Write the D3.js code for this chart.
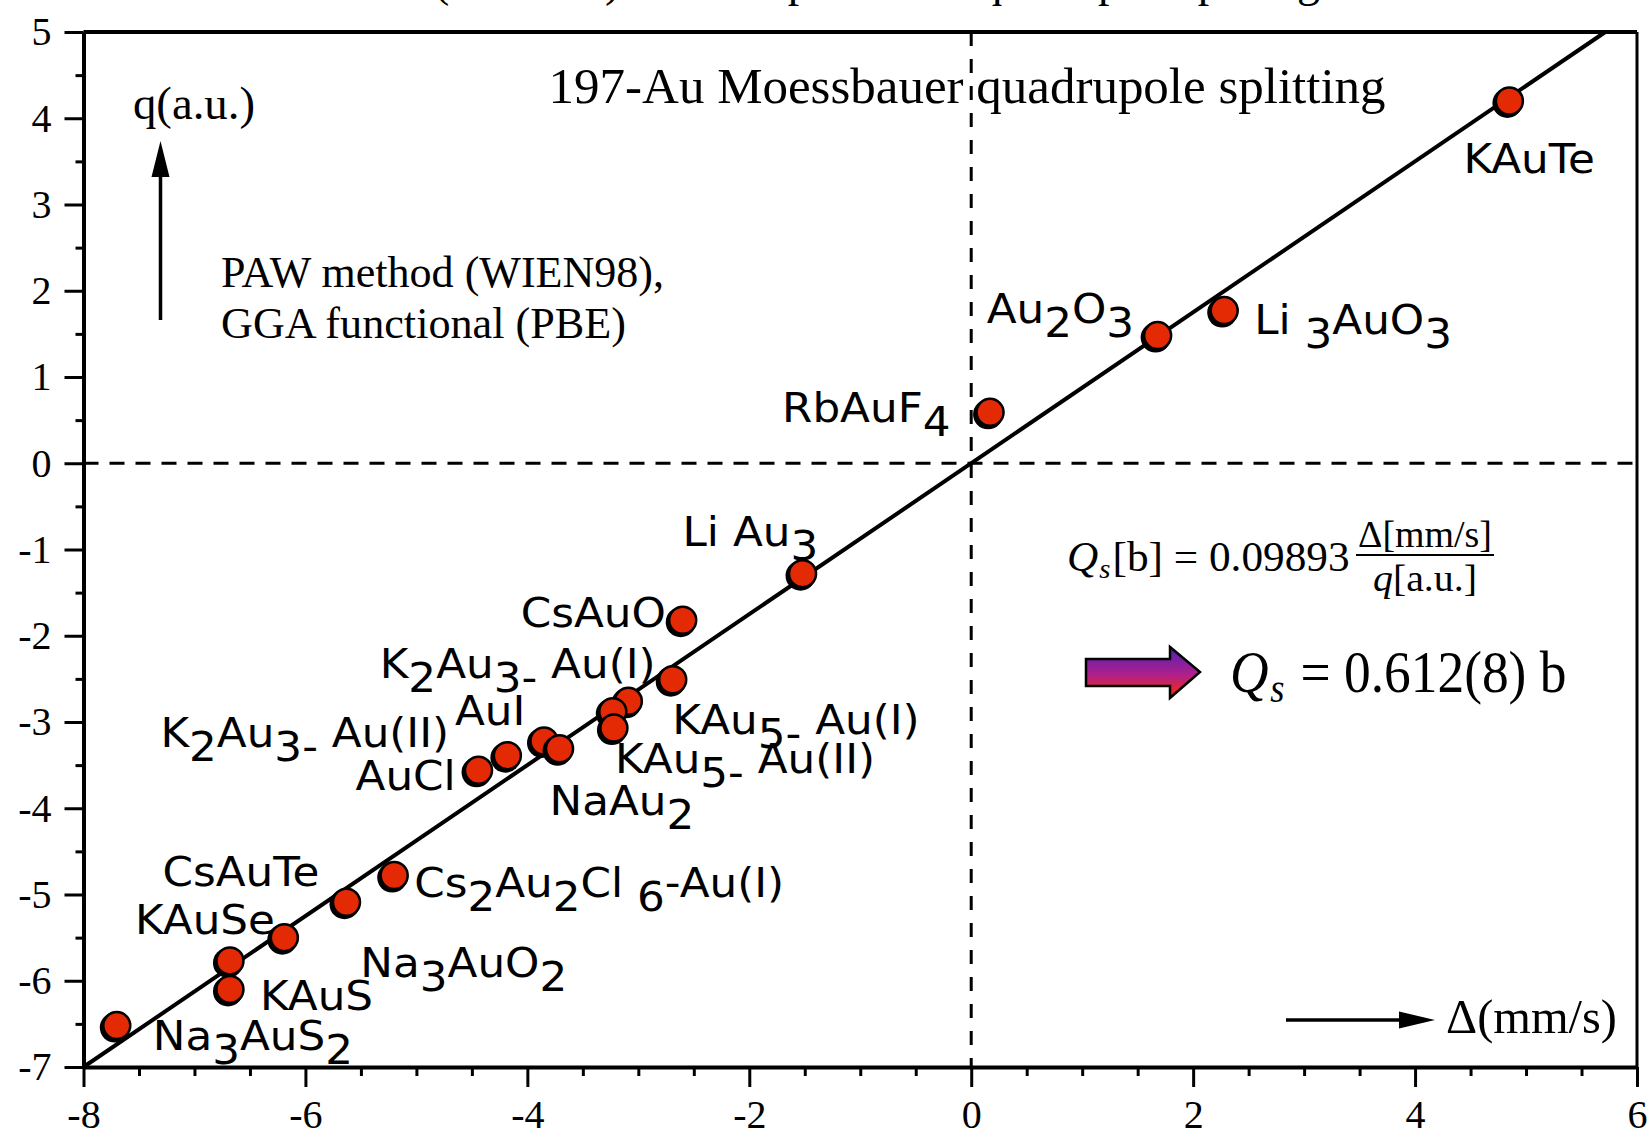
<!DOCTYPE html>
<html>
<head>
<meta charset="utf-8">
<script src="https://cdn.jsdelivr.net/npm/d3@7"></script>
<style>
  body { margin: 0; background: #fff; }
  svg { display: block; }
  .serif { font-family: "Liberation Serif", "Times New Roman", serif; }
  .lab { font-family: "DejaVu Sans", sans-serif; }
</style>
</head>
<body>
<svg width="1648" height="1131"></svg>
<script>
// data
var compounds = ["KAuTe", "Li _{3}AuO_{3}", "Au_{2}O_{3}", "RbAuF_{4}", "Li Au_{3}", "CsAuO",
    "K_{2}Au_{3-} Au(I)", "KAu_{5-} Au(I)", "", "KAu_{5-} Au(II)", "AuI", "NaAu_{2}",
    "K_{2}Au_{3-} Au(II)", "AuCl", "Cs_{2}Au_{2}Cl _{6}-Au(I)", "CsAuTe", "Na_{3}AuO_{2}",
    "KAuSe", "KAuS", "Na_{3}AuS_{2}"];
var splitting = [4.85, 2.28, 1.68, 0.17, -1.52, -2.60, -2.69, -3.09, -3.23, -3.22, -3.85, -3.71,
    -4.18, -4.44, -5.20, -5.63, -6.19, -6.68, -6.68, -7.70];
var efg = [4.20, 1.77, 1.48, 0.59, -1.28, -1.82, -2.51, -2.76, -2.88, -3.07, -3.22, -3.31,
    -3.39, -3.56, -4.78, -5.09, -5.50, -5.77, -6.10, -6.52];

// fit line q = slope * delta
var fitSlope = 0.875;

var xMajor = [-8, -6, -4, -2, 0, 2, 4, 6];
var yMajor = [-7, -6, -5, -4, -3, -2, -1, 0, 1, 2, 3, 4, 5];

// label placement (pixels, relative to the point)
var labelOffsets = [[-46, 72], [30, 23], [-171, -13], [-208, 10], [-120, -28], [-162, 7],
    [-293, -2], [44, 33], null, [1, 45], [-89, -16], [-10, 66],
    [-347, -9], [-123, 20], [20, 21], [-184, -16], [76, 39],
    [-95, -27], [30, 21], [36, 24]];

var svg = d3.select("svg");

var x = d3.scaleLinear().domain([-8, 6]).range([83.5, 1637]);
var y = d3.scaleLinear().domain([-7, 5]).range([1067, 32]);

var xMinor = d3.range(-8, 6.01, 0.5).filter(function (d) { return xMajor.indexOf(d) < 0; });
var yMinor = d3.range(-6.5, 5, 1);

//title cut off at the top
svg.append("text")
    .attr("class", "serif")
    .attr("x", 150).attr("y", -4)
    .attr("font-size", 46)
    .attr("textLength", 1170)
    .text("Calculated EFG (WIEN98) versus experimental quadrupole splitting");

//zero lines
svg.append("line")
    .attr("x1", x(-8)).attr("x2", x(6))
    .attr("y1", y(0)).attr("y2", y(0))
    .attr("stroke", "#000").attr("stroke-width", 3)
    .attr("stroke-dasharray", "15,11");
svg.append("line")
    .attr("x1", x(0)).attr("x2", x(0))
    .attr("y1", y(5)).attr("y2", y(-7))
    .attr("stroke", "#000").attr("stroke-width", 3)
    .attr("stroke-dasharray", "14,13");

//fit line
svg.append("line")
    .attr("x1", x(-8)).attr("y1", y(fitSlope * -8))
    .attr("x2", x(5 / fitSlope)).attr("y2", y(5))
    .attr("stroke", "#000").attr("stroke-width", 4);

//frame
svg.append("line").attr("x1", x(-8)).attr("x2", x(6)).attr("y1", y(5)).attr("y2", y(5))
    .attr("stroke", "#000").attr("stroke-width", 4);
svg.append("line").attr("x1", x(6)).attr("x2", x(6)).attr("y1", y(5)).attr("y2", y(-7))
    .attr("stroke", "#000").attr("stroke-width", 3);

//axes
function styleAxis(g) {
    g.select(".domain").attr("stroke-width", 4);
    g.selectAll(".tick line").attr("stroke-width", 3);
    g.selectAll("text").attr("class", "serif").attr("font-size", 40).attr("fill", "#000");
}

svg.append("g")
    .attr("transform", "translate(0," + y(-7) + ")")
    .call(d3.axisBottom(x).tickValues(xMinor).tickSize(9).tickSizeOuter(0).tickFormat(""))
    .call(function (g) { g.select(".domain").remove(); g.selectAll("line").attr("stroke-width", 3); });
svg.append("g")
    .attr("transform", "translate(" + x(-8) + ",0)")
    .call(d3.axisLeft(y).tickValues(yMinor).tickSize(8).tickSizeOuter(0).tickFormat(""))
    .call(function (g) { g.select(".domain").remove(); g.selectAll("line").attr("stroke-width", 3); });

svg.append("g")
    .attr("transform", "translate(0," + y(-7) + ")")
    .call(d3.axisBottom(x).tickValues(xMajor).tickSize(20).tickSizeOuter(0).tickPadding(13)
        .tickFormat(function (d) { return String(d); }))
    .call(styleAxis)
    .attr("font-family", null);
svg.append("g")
    .attr("transform", "translate(" + x(-8) + ",0)")
    .call(d3.axisLeft(y).tickValues(yMajor).tickSize(19).tickSizeOuter(0).tickPadding(13)
        .tickFormat(function (d) { return String(d); }))
    .call(styleAxis)
    .attr("font-family", null);

//points
var pts = svg.append("g").selectAll("g")
    .data(compounds.map(function (c, i) { return { name: c, dx: splitting[i], q: efg[i], off: labelOffsets[i] }; }))
    .enter()
    .append("g")
    .attr("transform", function (d) { return "translate(" + x(d.dx) + "," + y(d.q) + ")"; });

pts.append("circle")
    .attr("cx", -2).attr("cy", 2).attr("r", 15)
    .attr("fill", "#000");
pts.append("circle")
    .attr("r", 13.5)
    .attr("fill", "#e32a04")
    .attr("stroke", "#000").attr("stroke-width", 2.5);

//labels with subscripts
function parts(s) {
    var out = [], re = /_\{([^}]*)\}|([^_]+)/g, m;
    while ((m = re.exec(s))) {
        out.push(m[1] !== undefined ? { t: m[1], sub: true } : { t: m[2], sub: false });
    }
    return out;
}

var labs = svg.append("g").selectAll("text")
    .data(pts.data().filter(function (d) { return d.name; }))
    .enter()
    .append("text")
    .attr("class", "lab")
    .attr("font-size", 41)
    .attr("transform", function (d) {
        return "translate(" + (x(d.dx) + d.off[0]) + "," + (y(d.q) + d.off[1]) + ") scale(1.065,1)";
    });

labs.each(function (d) {
    var t = d3.select(this), low = false;
    parts(d.name).forEach(function (p) {
        var dy = 0;
        if (p.sub && !low) { dy = 14; low = true; }
        else if (!p.sub && low) { dy = -14; low = false; }
        t.append("tspan").attr("dy", dy).text(p.t);
    });
});

//annotations
svg.append("text").attr("class", "serif")
    .attr("x", 548.6).attr("y", 103).attr("font-size", 51)
    .attr("textLength", 837).attr("lengthAdjust", "spacingAndGlyphs")
    .text("197-Au Moessbauer quadrupole splitting");

svg.append("text").attr("class", "serif")
    .attr("x", 133).attr("y", 119).attr("font-size", 47)
    .attr("textLength", 122).attr("lengthAdjust", "spacingAndGlyphs")
    .text("q(a.u.)");

svg.append("text").attr("class", "serif")
    .attr("x", 221).attr("y", 287).attr("font-size", 44)
    .attr("textLength", 443).attr("lengthAdjust", "spacingAndGlyphs")
    .text("PAW method (WIEN98),");
svg.append("text").attr("class", "serif")
    .attr("x", 221).attr("y", 338).attr("font-size", 44)
    .attr("textLength", 405).attr("lengthAdjust", "spacingAndGlyphs")
    .text("GGA functional (PBE)");

//axis arrows
svg.append("line").attr("x1", 160.5).attr("x2", 160.5).attr("y1", 320).attr("y2", 175)
    .attr("stroke", "#000").attr("stroke-width", 3.5);
svg.append("path").attr("d", "M151.5,177 L169.5,177 L160.5,141 Z").attr("fill", "#000");

svg.append("line").attr("x1", 1286).attr("x2", 1402).attr("y1", 1020).attr("y2", 1020)
    .attr("stroke", "#000").attr("stroke-width", 3.5);
svg.append("path").attr("d", "M1399,1011.5 L1399,1028.5 L1435,1020 Z").attr("fill", "#000");

svg.append("text").attr("class", "serif")
    .attr("x", 1446).attr("y", 1033).attr("font-size", 49)
    .attr("textLength", 171).attr("lengthAdjust", "spacingAndGlyphs")
    .text("\u0394(mm/s)");

//formula
var f1 = svg.append("text").attr("class", "serif")
    .attr("transform", "translate(1067,571) scale(1.03,1)")
    .attr("font-size", 42);
f1.append("tspan").attr("font-style", "italic").text("Q");
f1.append("tspan").attr("font-style", "italic").attr("font-size", 28).attr("dx", 1).attr("dy", 7).text("s");
f1.append("tspan").attr("dx", 2).attr("dy", -7).text("[b] = 0.09893");

svg.append("text").attr("class", "serif")
    .attr("x", 1425).attr("y", 547).attr("font-size", 38)
    .attr("text-anchor", "middle")
    .attr("textLength", 134).attr("lengthAdjust", "spacingAndGlyphs")
    .text("\u0394[mm/s]");
svg.append("line").attr("x1", 1356).attr("x2", 1494).attr("y1", 555).attr("y2", 555)
    .attr("stroke", "#000").attr("stroke-width", 2);
var den = svg.append("text").attr("class", "serif")
    .attr("x", 1425).attr("y", 591).attr("font-size", 38)
    .attr("text-anchor", "middle");
den.append("tspan").attr("font-style", "italic").text("q");
den.append("tspan").text("[a.u.]");
den.attr("textLength", 104).attr("lengthAdjust", "spacingAndGlyphs");

//gradient arrow
var grad = svg.append("defs").append("linearGradient")
    .attr("id", "arrowGrad").attr("x1", 0).attr("y1", 0).attr("x2", 0).attr("y2", 1);
grad.append("stop").attr("offset", "0%").attr("stop-color", "#5020b8");
grad.append("stop").attr("offset", "55%").attr("stop-color", "#b0208a");
grad.append("stop").attr("offset", "100%").attr("stop-color", "#ff2a00");

svg.append("path")
    .attr("d", "M1086,659 L1170,659 L1170,647 L1200,672 L1170,698 L1170,686 L1086,686 Z")
    .attr("fill", "url(#arrowGrad)")
    .attr("stroke", "#000").attr("stroke-width", 2.5);

var f2 = svg.append("text").attr("class", "serif")
    .attr("transform", "translate(1230,692) scale(0.89,1)")
    .attr("font-size", 60);
f2.append("tspan").attr("font-style", "italic").text("Q");
f2.append("tspan").attr("font-style", "italic").attr("font-size", 41).attr("dx", 2).attr("dy", 10).text("s");
f2.append("tspan").attr("dx", 3).attr("dy", -10).text(" = 0.612(8) b");
</script>
</body>
</html>
